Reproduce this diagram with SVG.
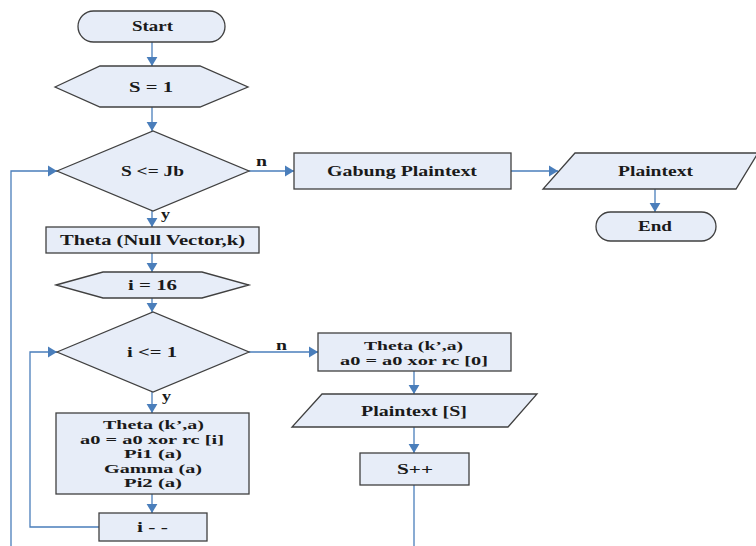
<svg xmlns="http://www.w3.org/2000/svg" width="756" height="546" viewBox="0 0 756 546">
<defs>
<style>
.s{fill:#e7edf8;stroke:#404040;stroke-width:1.3}
.t{font-family:"Liberation Serif","Times New Roman",serif;font-size:15px;font-weight:bold;fill:#1a1a1a;text-anchor:middle}
.m{font-size:13px}
.l{font-family:"Liberation Serif","Times New Roman",serif;font-size:15px;font-weight:bold;fill:#1a1a1a}
.c{fill:none;stroke:#4a7ebb;stroke-width:1.3}
</style>
<marker id="a" viewBox="0 0 10 12" refX="10" refY="6" markerWidth="9" markerHeight="12" markerUnits="userSpaceOnUse" orient="auto">
<path d="M0,0 L10,6 L0,12 z" fill="#4a7ebb"/>
</marker>
</defs>
<rect width="756" height="546" fill="#fff"/>
<g id="connectors">
<path class="c" d="M152,42 V66" marker-end="url(#a)"/>
<path class="c" d="M152,107 V131" marker-end="url(#a)"/>
<path class="c" d="M249,171 H294" marker-end="url(#a)"/>
<path class="c" d="M511,171 H558" marker-end="url(#a)"/>
<path class="c" d="M655,189 V212" marker-end="url(#a)"/>
<path class="c" d="M152,211 V227" marker-end="url(#a)"/>
<path class="c" d="M152,253 V272" marker-end="url(#a)"/>
<path class="c" d="M152,298 V312" marker-end="url(#a)"/>
<path class="c" d="M249,352 H318" marker-end="url(#a)"/>
<path class="c" d="M414,371 V394" marker-end="url(#a)"/>
<path class="c" d="M414,427 V453" marker-end="url(#a)"/>
<path class="c" d="M414,485 V546"/>
<path class="c" d="M152,392 V413" marker-end="url(#a)"/>
<path class="c" d="M152,494 V513" marker-end="url(#a)"/>
<path class="c" d="M99,527 H30 V352 H57" marker-end="url(#a)"/>
<path class="c" d="M11,546 V171 H57" marker-end="url(#a)"/>
<text class="l" x="256" y="166" textLength="11" lengthAdjust="spacingAndGlyphs">n</text>
<text class="l" x="161" y="219" textLength="9" lengthAdjust="spacingAndGlyphs">y</text>
<text class="l" x="276" y="350" textLength="11" lengthAdjust="spacingAndGlyphs">n</text>
<text class="l" x="162" y="401" textLength="9" lengthAdjust="spacingAndGlyphs">y</text>
</g>
<g id="start">
<rect class="s" x="78" y="11" width="147" height="31" rx="15.5"/>
<text class="t" x="152.5" y="31" textLength="41" lengthAdjust="spacingAndGlyphs">Start</text>
</g>
<g id="s1">
<polygon class="s" points="55,87 100,66 200,66 248,87 200,107 100,107"/>
<text class="t" x="151" y="92" textLength="44" lengthAdjust="spacingAndGlyphs">S = 1</text>
</g>
<g id="dec1">
<polygon class="s" points="57,171 153,131 249,171 153,211"/>
<text class="t" x="152.5" y="176" textLength="63" lengthAdjust="spacingAndGlyphs">S &lt;= Jb</text>
</g>
<g id="gabung">
<rect class="s" x="294" y="153" width="217" height="36"/>
<text class="t" x="402" y="176" textLength="150" lengthAdjust="spacingAndGlyphs">Gabung Plaintext</text>
</g>
<g id="plaintext">
<polygon class="s" points="575,153 758,153 736,189 543,189"/>
<text class="t" x="655.5" y="176" textLength="75" lengthAdjust="spacingAndGlyphs">Plaintext</text>
</g>
<g id="end">
<rect class="s" x="596" y="212" width="120" height="29" rx="14.5"/>
<text class="t" x="655" y="231" textLength="34" lengthAdjust="spacingAndGlyphs">End</text>
</g>
<g id="thetanull">
<rect class="s" x="46" y="227" width="213" height="26"/>
<text class="t" x="152.5" y="245" textLength="185" lengthAdjust="spacingAndGlyphs">Theta (Null Vector,k)</text>
</g>
<g id="i16">
<polygon class="s" points="56,285 103,272 202,272 249,285 202,298 103,298"/>
<text class="t" x="152.5" y="290" textLength="49" lengthAdjust="spacingAndGlyphs">i = 16</text>
</g>
<g id="dec2">
<polygon class="s" points="57,352 153,312 249,352 153,392"/>
<text class="t" x="152" y="357" textLength="50" lengthAdjust="spacingAndGlyphs">i &lt;= 1</text>
</g>
<g id="loopbody">
<rect class="s" x="56" y="413" width="193" height="81"/>
<text class="t m" x="153.5" y="429" textLength="101" lengthAdjust="spacingAndGlyphs">Theta (k’,a)</text>
<text class="t m" x="152" y="443.5" textLength="144" lengthAdjust="spacingAndGlyphs">a0 = a0 xor rc [i]</text>
<text class="t m" x="153" y="458" textLength="58" lengthAdjust="spacingAndGlyphs">Pi1 (a)</text>
<text class="t m" x="153" y="472.5" textLength="98" lengthAdjust="spacingAndGlyphs">Gamma (a)</text>
<text class="t m" x="153" y="487" textLength="58" lengthAdjust="spacingAndGlyphs">Pi2 (a)</text>
</g>
<g id="idec">
<rect class="s" x="99" y="513" width="108" height="28"/>
<text class="t" x="152.5" y="532" textLength="31" lengthAdjust="spacingAndGlyphs">i - -</text>
</g>
<g id="thetafinal">
<rect class="s" x="318" y="333" width="193" height="38"/>
<text class="t m" x="413.5" y="349.5" textLength="99" lengthAdjust="spacingAndGlyphs">Theta (k’,a)</text>
<text class="t m" x="414" y="364.5" textLength="148" lengthAdjust="spacingAndGlyphs">a0 = a0 xor rc [0]</text>
</g>
<g id="plaintexts">
<polygon class="s" points="322,394 537,394 508,427 292,427"/>
<text class="t" x="414" y="416" textLength="106" lengthAdjust="spacingAndGlyphs">Plaintext [S]</text>
</g>
<g id="splus">
<rect class="s" x="360" y="453" width="109" height="32"/>
<text class="t" x="415" y="474" textLength="36" lengthAdjust="spacingAndGlyphs">S++</text>
</g>
</svg>
